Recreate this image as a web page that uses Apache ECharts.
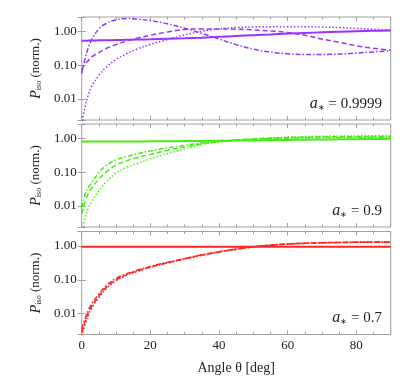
<!DOCTYPE html>
<html>
<head>
<meta charset="utf-8">
<script src="https://cdn.jsdelivr.net/npm/echarts@6/dist/echarts.min.js"></script>
<style>
  html, body { margin: 0; padding: 0; background: #fff; }
  #chart { width: 407px; height: 380px; }
</style>
</head>
<body>
<div id="chart"></div>
<script>
// angles shared by all curves (deg)
const angles = [0, 1, 2, 3, 5, 7, 10, 13, 16, 20, 25, 30, 35, 40, 45, 50, 55, 60, 65, 70, 75, 80, 85, 90];

// a* = 0.9999
const p1Solid   = [0.53, 0.53, 0.54, 0.54, 0.55, 0.55, 0.56, 0.57, 0.58, 0.59, 0.61, 0.63, 0.66, 0.70, 0.74, 0.78, 0.82, 0.87, 0.91, 0.95, 0.99, 1.02, 1.05, 1.07];
const p1Dashed  = [0.075, 0.11, 0.14, 0.18, 0.24, 0.31, 0.41, 0.52, 0.63, 0.78, 0.97, 1.15, 1.2, 1.2, 1.17, 1.12, 1.04, 0.94, 0.78, 0.6, 0.48, 0.38, 0.32, 0.28];
const p1DotDash = [0.058, 0.16, 0.35, 0.6, 1.2, 1.7, 2.25, 2.43, 2.35, 2.1, 1.7, 1.25, 0.88, 0.6, 0.41, 0.3, 0.245, 0.22, 0.21, 0.21, 0.215, 0.23, 0.25, 0.27];
const p1Dotted  = [0.0018, 0.006, 0.014, 0.025, 0.05, 0.085, 0.15, 0.22, 0.3, 0.42, 0.58, 0.8, 1.02, 1.2, 1.32, 1.38, 1.4, 1.4, 1.39, 1.36, 1.31, 1.25, 1.17, 1.1];

// a* = 0.9
const p2Solid   = [0.82, 0.82, 0.82, 0.82, 0.82, 0.82, 0.82, 0.82, 0.82, 0.83, 0.83, 0.84, 0.85, 0.86, 0.87, 0.88, 0.9, 0.91, 0.93, 0.94, 0.95, 0.96, 0.97, 0.98];
const p2DotDash = [0.009, 0.022, 0.036, 0.05, 0.1, 0.155, 0.235, 0.29, 0.35, 0.43, 0.53, 0.63, 0.74, 0.83, 0.9, 0.96, 1.0, 1.03, 1.05, 1.07, 1.08, 1.09, 1.1, 1.1];
const p2Dashed  = [0.006, 0.014, 0.024, 0.035, 0.062, 0.1, 0.165, 0.22, 0.27, 0.34, 0.45, 0.56, 0.7, 0.81, 0.9, 0.97, 1.03, 1.07, 1.1, 1.12, 1.13, 1.14, 1.15, 1.15];
const p2Dotted  = [0.0015, 0.0045, 0.009, 0.014, 0.028, 0.05, 0.095, 0.14, 0.18, 0.25, 0.36, 0.49, 0.67, 0.79, 0.9, 0.98, 1.05, 1.1, 1.14, 1.17, 1.19, 1.2, 1.21, 1.21];

// a* = 0.7
const p3Solid   = [0.96, 0.96, 0.96, 0.96, 0.96, 0.96, 0.96, 0.96, 0.96, 0.96, 0.96, 0.96, 0.96, 0.96, 0.96, 0.96, 0.96, 0.96, 0.96, 0.96, 0.96, 0.96, 0.96, 0.96];
const p3DotDash = [0.0035, 0.007, 0.013, 0.02, 0.038, 0.065, 0.11, 0.15, 0.19, 0.25, 0.33, 0.43, 0.55, 0.68, 0.82, 0.95, 1.06, 1.14, 1.2, 1.24, 1.27, 1.29, 1.3, 1.31];
const p3Dashed  = [0.0028, 0.0058, 0.011, 0.017, 0.033, 0.058, 0.1, 0.14, 0.18, 0.24, 0.32, 0.42, 0.54, 0.67, 0.81, 0.95, 1.07, 1.15, 1.21, 1.25, 1.28, 1.3, 1.31, 1.32];
const p3Dotted  = [0.0022, 0.0048, 0.0095, 0.015, 0.03, 0.053, 0.094, 0.135, 0.175, 0.235, 0.315, 0.415, 0.535, 0.665, 0.8, 0.94, 1.07, 1.16, 1.22, 1.26, 1.29, 1.31, 1.32, 1.33];

const spinLabels = ['0.9999', '0.9', '0.7'];
const colors = ['#9a33ff', '#44ee11', '#ff2424'];
const panels = [
  [p1Solid, p1Dashed, p1DotDash, p1Dotted],
  [p2Solid, p2Dashed, p2DotDash, p2Dotted],
  [p3Solid, p3Dashed, p3DotDash, p3Dotted]
];

const FONT = 'Liberation Serif';
const FRAME = '#a0a0a0';
const dashTypes = ['solid', [5, 3], [5, 2, 1.5, 2], [1.5, 2]];
const widths = [2, 1.5, 1.5, 1.5];

const gridTops = [17, 124, 231.5];
const grids = gridTops.map((t) => ({
  left: 81.7, width: 309, top: t, height: 103,
  show: true, borderColor: FRAME, borderWidth: 1, containLabel: false
}));

const xAxes = [];
const yAxes = [];
gridTops.forEach((t, i) => {
  const last = i === 2;
  xAxes.push({
    type: 'value', gridIndex: i, min: 0, max: 90, interval: 20, position: 'bottom',
    axisLine: { show: false },
    axisTick: { inside: true, length: 4, lineStyle: { color: FRAME } },
    minorTick: { show: true, splitNumber: 4, length: 2.5, lineStyle: { color: FRAME } },
    splitLine: { show: false },
    axisLabel: {
      show: last, color: '#222', fontFamily: FONT, fontSize: 13, margin: 5,
      showMaxLabel: false,
      formatter: (v) => (v % 20 === 0 ? String(v) : '')
    },
    name: last ? 'Angle θ [deg]' : '', nameLocation: 'middle', nameGap: 27,
    nameTextStyle: { color: '#222', fontFamily: FONT, fontSize: 14 }
  });
  yAxes.push({
    type: 'log', logBase: 10, gridIndex: i, min: 0.0024, max: 2.7, position: 'left',
    axisLine: { show: false },
    axisTick: { inside: true, length: 4, lineStyle: { color: FRAME } },
    splitLine: { show: false },
    axisLabel: {
      color: '#222', fontFamily: FONT, fontSize: 13, margin: 5,
      formatter: (v) => {
        const l = Math.log10(v);
        return Math.abs(l - Math.round(l)) < 1e-6 ? v.toFixed(2) : '';
      }
    },
    name: '{p|P}{s|iso} (norm.)', nameLocation: 'middle', nameGap: 34,
    nameTextStyle: {
      color: '#222', fontFamily: FONT, fontSize: 13,
      rich: {
        p: { fontFamily: FONT, fontStyle: 'italic', fontSize: 14, color: '#222' },
        s: { fontFamily: FONT, fontSize: 8, color: '#222', verticalAlign: 'bottom', lineHeight: 8 }
      }
    }
  });
});
// mirrored ticks on top and right
gridTops.forEach((t, i) => {
  xAxes.push({
    type: 'value', gridIndex: i, min: 0, max: 90, interval: 20, position: 'top',
    axisLine: { show: false },
    axisTick: { inside: true, length: 4, lineStyle: { color: FRAME } },
    minorTick: { show: true, splitNumber: 4, length: 2.5, lineStyle: { color: FRAME } },
    splitLine: { show: false }, axisLabel: { show: false }
  });
  yAxes.push({
    type: 'log', logBase: 10, gridIndex: i, min: 0.0024, max: 2.7, position: 'right',
    axisLine: { show: false },
    axisTick: { inside: true, length: 4, lineStyle: { color: FRAME } },
    splitLine: { show: false }, axisLabel: { show: false }
  });
});

const series = [];
panels.forEach((curves, i) => {
  curves.forEach((vals, k) => {
    series.push({
      type: 'line', xAxisIndex: i, yAxisIndex: i, smooth: 0.4,
      showSymbol: false, silent: true, clip: true,
      data: angles.map((a, j) => [a, vals[j]]),
      lineStyle: { color: colors[i], width: widths[k], type: dashTypes[k] }
    });
  });
});

const annY = [104, 211, 318];
const graphic = spinLabels.map((s, i) => ({
  type: 'text', x: 382, y: annY[i],
  style: {
    text: '{a|a}{s|∗} = ' + s,
    align: 'right', verticalAlign: 'middle',
    fontFamily: FONT, fontSize: 15, fill: '#222',
    rich: {
      a: { fontFamily: FONT, fontStyle: 'italic', fontSize: 16, fill: '#222' },
      s: { fontFamily: FONT, fontSize: 8, fill: '#222', verticalAlign: 'bottom', lineHeight: 8 }
    }
  }
}));

const chart = echarts.init(document.getElementById('chart'), null, { renderer: 'canvas' });
chart.setOption({
  animation: false,
  grid: grids,
  xAxis: xAxes,
  yAxis: yAxes,
  series: series,
  graphic: graphic
});
</script>
</body>
</html>
